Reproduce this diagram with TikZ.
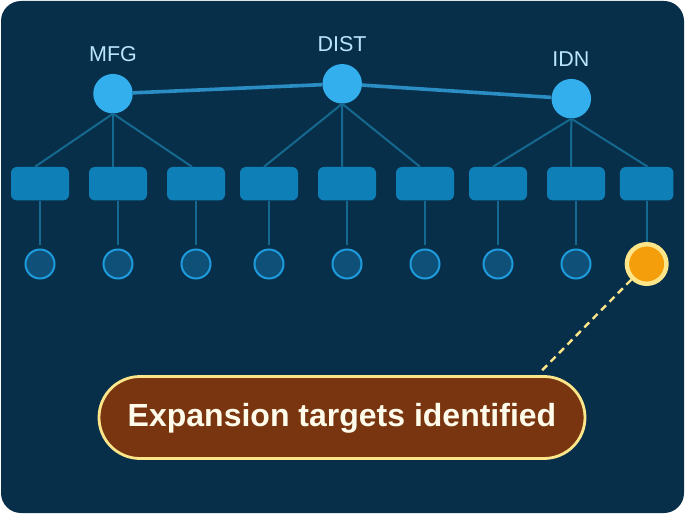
\documentclass[tikz,border=0pt]{standalone}
\usepackage{fontspec}
\setmainfont{Liberation Sans}
\usetikzlibrary{positioning}
\definecolor{cardbg}{HTML}{082F49}
\definecolor{hubblue}{HTML}{33AFEE}
\definecolor{hublabel}{HTML}{BAE6FD}
\definecolor{hubline}{HTML}{2A8DC4}
\definecolor{treeline}{HTML}{15688F}
\definecolor{boxblue}{HTML}{0F7FB8}
\definecolor{leaffill}{HTML}{0F5078}
\definecolor{leafline}{HTML}{1E9BDC}
\definecolor{targetfill}{HTML}{F59E0B}
\definecolor{paleyellow}{HTML}{FDE68A}
\definecolor{pillfill}{HTML}{78350F}
\definecolor{pilltext}{HTML}{FFFBEB}
\tikzset{
  hub/.style={circle,fill=hubblue,minimum size=39.5pt,inner sep=0pt},
  hubname/.style={text=hublabel,font=\fontsize{21.5}{24}\selectfont,inner sep=0pt,anchor=base},
  unitbox/.style={rectangle,rounded corners=6pt,fill=boxblue,minimum width=58pt,minimum height=33.5pt,inner sep=0pt},
  leaf/.style={circle,fill=leaffill,draw=leafline,line width=2pt,minimum size=29pt,inner sep=0pt},
  target/.style={circle,fill=targetfill,draw=paleyellow,line width=4.4pt,minimum size=39.6pt,inner sep=0pt},
  link/.style={treeline,line width=2pt},
  hublink/.style={hubline,line width=3.6pt},
  pill/.style={rectangle,rounded corners=41pt,fill=pillfill,draw=paleyellow,line width=2.8pt,minimum width=486pt,minimum height=82pt,inner sep=0pt,text=pilltext,text height=25pt,text depth=7pt,font=\bfseries\fontsize{32}{38}\selectfont}
}
\begin{document}
\begin{tikzpicture}[x=1pt,y=-1pt]
  \useasboundingbox (0,0) rectangle (686,516);
  \fill[cardbg,rounded corners=20pt] (1,1) rectangle (684,513);

  % hubs
  \node[hub] (mfg) at (113,93.7) {};
  \node[hub] (dist) at (342.2,83.8) {};
  \node[hub] (idn) at (571.3,98.7) {};
  \node[hubname] (mfgname) at (113,62) {MFG};
  \node[hubname] (distname) at (342,52) {DIST};
  \node[hubname] (idnname) at (571,67) {IDN};
  \draw[hublink] (mfg) -- (dist);
  \draw[hublink] (dist) -- (idn);

  % boxes and leaves
  \foreach \name/\x in {a/40,b/118,c/196,d/269,e/347,f/425,g/498,h/576}{
    \node[unitbox] (box\name) at (\x,183.7) {};
    \node[leaf] (leaf\name) at (\x,264) {};
    \coordinate (stop\name) at (\x,245);
    \draw[link] (box\name) -- (stop\name);
  }
  \node[unitbox,minimum width=53.5pt] (boxi) at (646.7,183.7) {};
  \node[target] (leafi) at (646.7,264) {};
  \draw[link] (boxi) -- (leafi);

  \draw[link] (mfg.south) -- ([xshift=-5pt]boxa.north);
  \draw[link] (mfg.south) -- ([xshift=-5pt]boxb.north);
  \draw[link] (mfg.south) -- ([xshift=-4pt]boxc.north);
  \draw[link] (dist.south) -- ([xshift=-5pt]boxd.north);
  \draw[link] (dist.south) -- ([xshift=-5pt]boxe.north);
  \draw[link] (dist.south) -- ([xshift=-5pt]boxf.north);
  \draw[link] (idn.south) -- ([xshift=-5pt]boxg.north);
  \draw[link] (idn.south) -- ([xshift=-5pt]boxh.north);
  \draw[link] (idn.south) -- ([xshift=1pt]boxi.north);

  % callout
  \node[pill] (note) at (342,417.5) {Expansion targets identified};
  \coordinate (noteend) at (541.7,370.7);
  \draw[paleyellow,line width=2.4pt,dash pattern=on 7pt off 5pt] (leafi) -- (noteend);
\end{tikzpicture}
\end{document}
